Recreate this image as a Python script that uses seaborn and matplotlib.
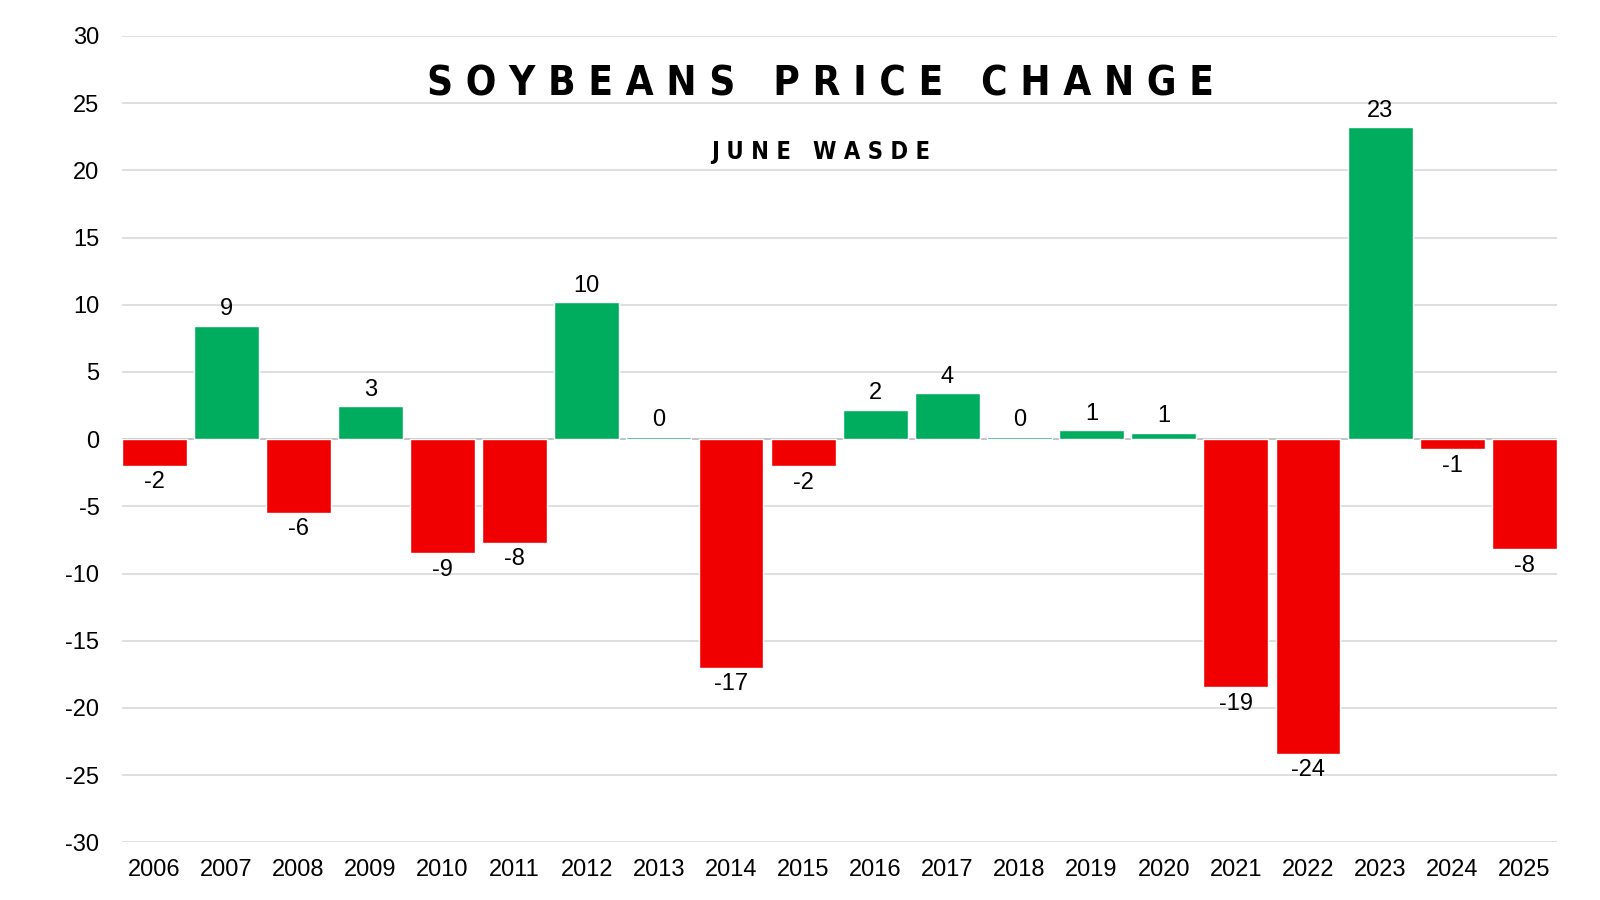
import matplotlib
matplotlib.use("Agg")
import pandas as pd
import seaborn as sns
import matplotlib.pyplot as plt

# data
years = [str(y) for y in range(2006, 2026)]
changes = [-1.96, 8.44, -5.47, 2.45, -8.47, -7.7, 10.2, 0.2, -17.0, -2.0,
           2.18, 3.42, 0.17, 0.67, 0.46, -18.45, -23.4, 23.2, -0.74, -8.2]
bar_labels = ["-2", "9", "-6", "3", "-9", "-8", "10", "0", "-17", "-2",
              "2", "4", "0", "1", "1", "-19", "-24", "23", "-1", "-8"]
yticks = list(range(-30, 31, 5))

GREEN = "#00AD5F"
RED = "#F00000"

df = pd.DataFrame({"year": years, "change": changes})
palette = {y: (GREEN if v >= 0 else RED) for y, v in zip(years, changes)}

sns.set_style("white")
plt.rcParams["font.family"] = ["Liberation Sans", "DejaVu Sans"]

fig = plt.figure(figsize=(16, 9), dpi=100)
ax = fig.add_axes([0.076, 0.064, 0.897, 0.896])

sns.barplot(data=df, x="year", y="change", hue="year", palette=palette,
            width=0.9, legend=False, saturation=1, ax=ax, zorder=2)

for cont, lab in zip(ax.containers, bar_labels):
    ax.bar_label(cont, labels=[lab], padding=4, fontsize=17, color="black")

ax.set_ylim(-30, 30)
ax.set_xlim(-0.45, len(years) - 0.55)
ax.set_yticks(yticks)
ax.set_yticklabels([str(t) for t in yticks])
ax.grid(axis="y", color="#d9d9d9", linewidth=1.2)
ax.set_axisbelow(True)
ax.axhline(0, color="#bfbfbf", linewidth=1.2, zorder=1)
for s in ax.spines.values():
    s.set_visible(False)
ax.tick_params(axis="both", length=0, labelsize=17, colors="black")
ax.tick_params(axis="y", pad=16)
ax.tick_params(axis="x", pad=12)
ax.set_xlabel("")
ax.set_ylabel("")

# condensed, letter-spaced headline
title = "   ".join(" ".join(w) for w in "SOYBEANS PRICE CHANGE".split())
subtitle = "   ".join(" ".join(w) for w in "JUNE WASDE".split())
fig.text(0.513, 0.906, title, ha="center", va="center", fontsize=29,
         fontweight="bold", fontstretch="condensed", family="DejaVu Sans",
         color="black")
fig.text(0.513, 0.831, subtitle, ha="center", va="center", fontsize=17,
         fontweight="bold", fontstretch="condensed", family="DejaVu Sans",
         color="black")

fig.savefig("out.png", dpi=100, facecolor="white")
